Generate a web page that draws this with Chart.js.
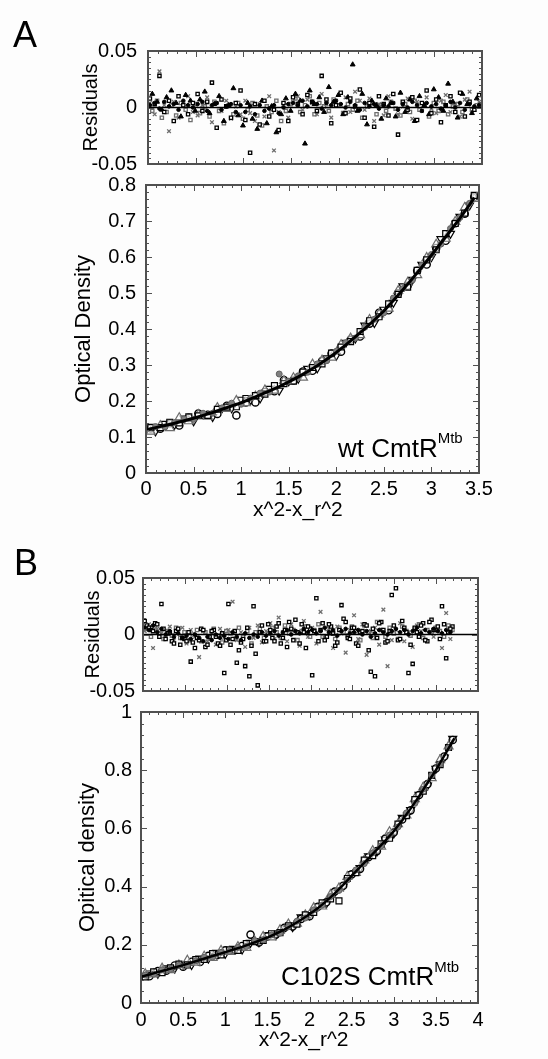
<!DOCTYPE html>
<html>
<head>
<meta charset="utf-8">
<script src="https://cdn.jsdelivr.net/npm/chart.js@4.4.1/dist/chart.umd.min.js"></script>
<style>
  html, body { margin: 0; padding: 0; background: #fdfdfd; }
  #fig { position: relative; width: 548px; height: 1059px; overflow: hidden;
         font-family: "Liberation Sans", Arial, sans-serif; color: #000; }
  #fig canvas { position: absolute; left: 0; top: 0; }
  .lbl { position: absolute; line-height: 1; white-space: nowrap; }
  .sup { font-size: 15px; position: relative; }
</style>
</head>
<body>
<div id="fig">
  <canvas id="resA" width="548" height="1059"></canvas>
  <canvas id="odA" width="548" height="1059"></canvas>
  <canvas id="resB" width="548" height="1059"></canvas>
  <canvas id="odB" width="548" height="1059"></canvas>
  <div class="lbl" style="left:13px;top:17px;font-size:36px">A</div>
  <div class="lbl" style="left:14px;top:545px;font-size:36px">B</div>
  <div class="lbl" style="left:338px;top:435px;font-size:26px">wt CmtR<span class="sup" style="top:-14px">Mtb</span></div>
  <div class="lbl" style="left:281px;top:963px;font-size:26px">C102S CmtR<span class="sup" style="top:-13px">Mtb</span></div>
</div>
<script>
// ---- panel A: optical density vs x^2-x_r^2 ----
const fitAx = [0,0.1,0.2,0.3,0.4,0.5,0.6,0.7,0.8,0.9,1.0,1.1,1.2,1.3,1.4,1.5,1.6,1.7,1.8,1.9,2.0,2.1,2.2,2.3,2.4,2.5,2.6,2.7,2.8,2.9,3.0,3.1,3.2,3.3,3.4,3.45];
const fitAy = [0.120,0.126,0.132,0.138,0.145,0.152,0.160,0.168,0.177,0.186,0.195,0.206,0.217,0.228,0.240,0.253,0.267,0.282,0.298,0.316,0.335,0.356,0.378,0.401,0.425,0.450,0.479,0.509,0.540,0.572,0.605,0.639,0.673,0.708,0.745,0.765];

const odAx1 = [0.05,0.15,0.25,0.35,0.45,0.55,0.65,0.75,0.85,0.95,1.05,1.15,1.25,1.35,1.45,1.55,1.65,1.75,1.85,1.95,2.05,2.15,2.25,2.35,2.45,2.55,2.65,2.75,2.85,2.95,3.05,3.15,3.25,3.35,3.45];
const odAx2 = [0.1,0.2,0.3,0.4,0.5,0.6,0.7,0.8,0.9,1.0,1.1,1.2,1.3,1.4,1.5,1.6,1.7,1.8,1.9,2.0,2.1,2.2,2.3,2.4,2.5,2.6,2.7,2.8,2.9,3.0,3.1,3.2,3.3,3.4];
const sqA  = [0.127,0.126,0.141,0.139,0.156,0.159,0.160,0.177,0.183,0.184,0.207,0.215,0.219,0.243,0.248,0.255,0.280,0.293,0.303,0.333,0.350,0.365,0.393,0.423,0.434,0.470,0.496,0.516,0.563,0.592,0.620,0.665,0.693,0.722,0.771];
const triA = [0.115,0.131,0.125,0.153,0.144,0.162,0.157,0.181,0.178,0.201,0.194,0.213,0.230,0.229,0.256,0.264,0.265,0.302,0.313,0.321,0.356,0.374,0.383,0.426,0.441,0.457,0.506,0.529,0.550,0.598,0.635,0.651,0.698,0.737,0.762];
const cirA = [0.124,0.123,0.138,0.132,0.153,0.165,0.162,0.164,0.187,0.160,0.196,0.196,0.225,0.227,0.258,0.257,0.282,0.284,0.311,0.332,0.337,0.370,0.379,0.415,0.445,0.452,0.499,0.520,0.562,0.579,0.625,0.645,0.694,0.720,0.767];
const invA = [0.116,0.137,0.134,0.152,0.144,0.163,0.156,0.181,0.180,0.204,0.203,0.208,0.234,0.229,0.255,0.262,0.290,0.291,0.319,0.326,0.362,0.374,0.410,0.417,0.454,0.473,0.519,0.537,0.579,0.600,0.650,0.665,0.712,0.743];
const dotA = [0.129,0.128,0.140,0.150,0.149,0.166,0.166,0.181,0.194,0.191,0.208,0.222,0.225,0.275,0.255,0.270,0.280,0.303,0.312,0.338,0.362,0.375,0.405,0.427,0.445,0.486,0.512,0.536,0.577,0.607,0.636,0.679,0.710,0.749];

// ---- panel A: residuals ----
const resAx1 = [0.02,0.07,0.12,0.17,0.22,0.27,0.32,0.37,0.42,0.47,0.52,0.57,0.62,0.67,0.72,0.77,0.82,0.87,0.92,0.97,1.02,1.07,1.12,1.17,1.22,1.27,1.32,1.37,1.42,1.47,1.52,1.57,1.62,1.67,1.72,1.77,1.82,1.87,1.92,1.97,2.02,2.07,2.12,2.17,2.22,2.27,2.32,2.37,2.42,2.47,2.52,2.57,2.62,2.67,2.72,2.77,2.82,2.87,2.92,2.97,3.02,3.07,3.12,3.17,3.22,3.27,3.32,3.37,3.42,3.47];
const resAx2 = [0.045,0.095,0.145,0.195,0.245,0.295,0.345,0.395,0.445,0.495,0.545,0.595,0.645,0.695,0.745,0.795,0.845,0.895,0.945,0.995,1.045,1.095,1.145,1.195,1.245,1.295,1.345,1.395,1.445,1.495,1.545,1.595,1.645,1.695,1.745,1.795,1.845,1.895,1.945,1.995,2.045,2.095,2.145,2.195,2.245,2.295,2.345,2.395,2.445,2.495,2.545,2.595,2.645,2.695,2.745,2.795,2.845,2.895,2.945,2.995,3.045,3.095,3.145,3.195,3.245,3.295,3.345,3.395,3.445];
const rA_sq = [0.008,0.003,0.028,-0.004,0.006,-0.012,0.010,0.002,-0.006,0.004,
  0.012,-0.003,0.005,0.022,-0.018,0.007,0.001,-0.009,0.004,0.015,
  -0.011,-0.040,0.003,-0.015,0.006,-0.008,-0.002,-0.020,0.004,-0.012,
  0.009,0.003,-0.006,0.011,0.005,-0.003,0.028,0.007,-0.014,0.002,
  0.013,-0.005,0.008,0.001,0.016,-0.009,0.004,-0.017,0.010,0.003,
  -0.007,0.012,-0.024,0.005,-0.002,0.009,-0.011,0.004,0.015,-0.005,
  0.007,-0.013,0.002,0.010,-0.004,0.013,-0.008,0.005,-0.002,0.011];
const rA_tri = [0.012,0.005,-0.002,0.009,0.015,0.004,-0.008,0.011,0.006,-0.003,
  0.007,0.014,-0.005,0.003,0.010,-0.012,0.002,0.017,-0.007,-0.016,
  0.004,-0.010,-0.019,0.006,-0.014,0.001,-0.022,-0.006,0.008,-0.003,
  0.012,0.006,-0.032,0.015,0.003,0.009,-0.004,0.018,0.005,0.011,
  -0.006,0.009,0.038,-0.003,0.012,-0.015,0.006,0.002,-0.010,0.008,
  0.004,-0.008,0.013,-0.004,0.007,-0.012,0.010,0.002,-0.006,0.016,
  0.009,-0.003,0.021,0.005,-0.009,0.012,0.003,-0.005,0.008];
const rA_x = [0.004,-0.006,0.032,0.002,-0.021,0.005,-0.009,0.003,0.010,-0.004,
  -0.007,0.002,0.009,-0.013,0.004,-0.003,0.006,-0.010,0.001,-0.006,
  0.006,-0.005,-0.012,0.003,-0.008,0.010,-0.038,-0.004,0.002,-0.009,
  0.005,0.010,-0.002,0.007,0.004,-0.006,0.012,0.003,-0.009,0.006,
  0.002,0.009,-0.004,0.014,0.006,-0.002,0.008,-0.012,0.003,-0.007,
  0.010,0.004,-0.006,0.001,0.008,-0.010,0.005,-0.003,0.009,-0.001,
  -0.005,0.006,0.011,-0.004,0.003,-0.008,0.007,0.014,-0.002,0.005];
const rA_gsq = [-0.003,0.006,-0.009,-0.004,0.002,-0.007,0.004,-0.002,-0.011,0.003,
  -0.005,0.001,-0.008,0.005,-0.003,-0.014,0.002,-0.006,0.004,-0.010,
  -0.002,0.004,-0.007,-0.016,0.001,-0.004,0.006,-0.012,-0.003,0.003,
  0.008,-0.004,0.002,0.010,-0.006,0.004,0.001,-0.003,0.007,0.002,
  -0.005,0.003,-0.002,0.006,-0.009,0.001,0.004,-0.006,0.002,-0.003,
  0.005,-0.001,-0.007,0.003,-0.004,0.006,-0.002,0.002,-0.008,0.004,
  -0.003,0.005,-0.006,0.001,0.003,-0.004,0.007,-0.002,0.002];
const rA_dot = [0.002,0.004,-0.001,0.005,0.001,0.003,-0.002,0.006,0.002,0.000,
  0.003,0.005,-0.003,0.002,0.004,-0.002,0.001,0.003,-0.004,0.002,
  -0.004,0.001,-0.006,0.002,-0.003,-0.001,0.002,-0.005,0.000,0.003,
  0.004,0.002,0.006,0.001,0.005,0.003,-0.001,0.004,0.002,0.006,
  0.003,0.000,0.005,0.002,-0.002,0.004,0.001,0.003,-0.001,0.002,
  0.001,0.004,-0.002,0.003,0.000,0.005,0.002,-0.003,0.004,0.001,
  0.003,-0.001,0.002,0.005,0.000,0.004,-0.002,0.003,0.001,0.002];
const zeroAx = [0, 3.5];
const zeroY = [0, 0];

// ---- panel B: optical density ----
const fitBx = [0,0.1,0.2,0.3,0.4,0.5,0.6,0.7,0.8,0.9,1.0,1.1,1.2,1.3,1.4,1.5,1.6,1.7,1.8,1.9,2.0,2.1,2.2,2.3,2.4,2.5,2.6,2.7,2.8,2.9,3.0,3.1,3.2,3.3,3.4,3.5,3.6,3.7,3.72];
const fitBy = [0.090,0.098,0.106,0.114,0.122,0.130,0.139,0.148,0.157,0.166,0.175,0.184,0.193,0.203,0.214,0.225,0.238,0.252,0.268,0.286,0.305,0.326,0.350,0.377,0.406,0.437,0.467,0.497,0.527,0.558,0.590,0.628,0.668,0.710,0.756,0.800,0.850,0.900,0.910];

const odBx1 = [0.05,0.15,0.25,0.35,0.45,0.55,0.65,0.75,0.85,0.95,1.05,1.15,1.25,1.35,1.45,1.55,1.65,1.75,1.85,1.95,2.05,2.15,2.25,2.35,2.45,2.55,2.65,2.75,2.85,2.95,3.05,3.15,3.25,3.35,3.45,3.55,3.65];
const odBx2 = [0.1,0.2,0.3,0.4,0.5,0.6,0.7,0.8,0.9,1.0,1.1,1.2,1.3,1.4,1.5,1.6,1.7,1.8,1.9,2.0,2.1,2.2,2.3,2.4,2.5,2.6,2.7,2.8,2.9,3.0,3.1,3.2,3.3,3.4,3.5,3.6,3.7];
const sqB  = [0.090,0.107,0.104,0.121,0.134,0.131,0.149,0.150,0.170,0.165,0.183,0.181,0.204,0.211,0.215,0.238,0.242,0.265,0.271,0.303,0.311,0.344,0.358,0.351,0.428,0.448,0.491,0.506,0.547,0.566,0.615,0.644,0.699,0.728,0.782,0.819,0.878];
const triB = [0.100,0.099,0.119,0.113,0.130,0.146,0.139,0.160,0.155,0.180,0.176,0.193,0.190,0.212,0.228,0.226,0.251,0.271,0.273,0.302,0.327,0.332,0.372,0.395,0.434,0.447,0.490,0.523,0.538,0.588,0.615,0.645,0.701,0.741,0.773,0.835,0.882];
const cirB = [0.092,0.110,0.111,0.129,0.125,0.142,0.141,0.162,0.164,0.181,0.180,0.196,0.235,0.208,0.229,0.235,0.258,0.263,0.289,0.298,0.331,0.346,0.383,0.403,0.442,0.461,0.501,0.522,0.565,0.586,0.631,0.662,0.715,0.752,0.806,0.847,0.904];
const invB = [0.102,0.101,0.120,0.119,0.132,0.131,0.153,0.153,0.173,0.169,0.187,0.184,0.207,0.209,0.233,0.234,0.257,0.261,0.295,0.302,0.332,0.342,0.381,0.401,0.444,0.464,0.505,0.521,0.562,0.583,0.637,0.664,0.716,0.748,0.805,0.844,0.908];
const dotB = [0.096,0.099,0.114,0.116,0.129,0.130,0.145,0.157,0.158,0.174,0.177,0.191,0.194,0.214,0.217,0.234,0.240,0.262,0.281,0.292,0.320,0.336,0.366,0.387,0.423,0.457,0.479,0.516,0.540,0.577,0.605,0.653,0.686,0.735,0.782,0.822,0.877];

// ---- panel B: residuals ----
const resBx1 = [0.02,0.07,0.12,0.17,0.22,0.27,0.32,0.37,0.42,0.47,0.52,0.57,0.62,0.67,0.72,0.77,0.82,0.87,0.92,0.97,1.02,1.07,1.12,1.17,1.22,1.27,1.32,1.37,1.42,1.47,1.52,1.57,1.62,1.67,1.72,1.77,1.82,1.87,1.92,1.97,2.02,2.07,2.12,2.17,2.22,2.27,2.32,2.37,2.42,2.47,2.52,2.57,2.62,2.67,2.72,2.77,2.82,2.87,2.92,2.97,3.02,3.07,3.12,3.17,3.22,3.27,3.32,3.37,3.42,3.47,3.52,3.57,3.62,3.67];
const resBx2 = [0.045,0.095,0.145,0.195,0.245,0.295,0.345,0.395,0.445,0.495,0.545,0.595,0.645,0.695,0.745,0.795,0.845,0.895,0.945,0.995,1.045,1.095,1.145,1.195,1.245,1.295,1.345,1.395,1.445,1.495,1.545,1.595,1.645,1.695,1.745,1.795,1.845,1.895,1.945,1.995,2.045,2.095,2.145,2.195,2.245,2.295,2.345,2.395,2.445,2.495,2.545,2.595,2.645,2.695,2.745,2.795,2.845,2.895,2.945,2.995,3.045,3.095,3.145,3.195,3.245,3.295,3.345,3.395,3.445,3.495,3.545,3.595,3.645,3.695];
const rB_sq = [0.012,0.006,0.003,0.009,0.027,-0.004,0.002,-0.008,0.005,-0.003,
  -0.006,-0.024,-0.012,-0.005,0.004,-0.009,0.003,-0.002,-0.010,-0.034,
  0.027,-0.004,-0.025,-0.007,-0.028,-0.037,0.025,-0.045,0.008,-0.006,
  0.004,-0.006,0.010,-0.003,-0.011,0.005,0.013,-0.008,0.002,0.007,
  -0.036,0.032,0.004,-0.005,0.009,0.001,-0.007,0.026,0.011,-0.004,
  0.006,-0.010,0.003,0.008,-0.033,-0.037,0.010,0.004,-0.006,0.035,
  0.041,-0.004,0.006,-0.034,-0.026,0.002,0.008,-0.005,0.011,0.004,
  0.007,0.025,-0.021,0.005];
const rB_sq2 = [0.008,0.004,0.010,-0.002,0.005,0.001,-0.006,0.003,-0.009,-0.004,
  0.002,-0.007,-0.003,0.005,-0.011,-0.002,0.004,-0.008,0.001,-0.005,
  -0.009,0.003,-0.014,-0.004,0.006,-0.010,-0.017,0.002,-0.006,0.009,
  -0.003,0.007,-0.008,0.004,0.011,-0.005,0.002,0.009,-0.012,0.005,
  0.003,-0.006,0.010,-0.002,0.007,-0.010,0.004,0.014,-0.003,0.006,
  -0.008,0.002,0.009,-0.014,0.005,-0.003,0.011,-0.007,0.003,0.008,
  -0.005,0.012,0.002,-0.009,0.006,-0.002,0.010,-0.006,0.013,0.004,
  -0.004,0.009,0.002,0.007];
const rB_x = [0.003,0.009,-0.012,0.005,0.001,-0.003,0.007,-0.005,0.002,0.006,
  -0.008,0.004,-0.002,-0.020,0.003,-0.006,0.001,-0.009,0.005,-0.003,
  0.004,0.029,-0.005,0.002,-0.011,0.006,-0.003,0.008,-0.007,0.003,
  0.010,-0.004,0.015,0.002,-0.006,0.009,0.003,-0.010,0.012,-0.002,
  0.006,-0.008,0.020,-0.003,0.005,-0.012,0.007,0.001,-0.016,0.004,
  0.017,-0.004,0.009,-0.018,0.003,0.006,-0.009,0.022,-0.028,-0.005,
  0.004,0.010,-0.006,0.002,-0.011,0.008,0.003,-0.005,0.011,-0.002,
  0.006,-0.012,0.019,-0.004];
const rB_gsq = [0.005,-0.002,0.007,0.001,-0.004,0.003,-0.001,0.006,-0.003,0.002,
  -0.005,0.000,0.004,-0.006,0.002,-0.003,0.005,-0.001,-0.007,0.003,
  0.001,-0.004,0.006,-0.002,0.003,-0.008,0.002,0.005,-0.003,0.001,
  0.006,0.002,-0.003,0.008,0.001,0.004,-0.005,0.003,0.007,-0.002,
  0.004,0.009,-0.002,0.005,0.001,-0.004,0.006,0.002,-0.001,0.007,
  0.003,-0.005,0.008,0.002,-0.003,0.011,0.004,-0.002,0.006,0.001,
  -0.004,0.007,0.003,-0.001,0.005,0.009,-0.003,0.004,0.002,0.006,
  0.003,-0.002,0.008,0.004];
const rB_dot = [0.006,0.004,0.008,0.002,0.005,0.000,0.003,-0.002,0.001,-0.003,
  -0.001,-0.004,0.000,-0.003,-0.006,-0.002,-0.005,0.000,-0.003,-0.001,
  -0.004,0.002,-0.002,-0.005,0.001,-0.003,0.000,-0.002,0.002,-0.001,
  0.001,0.003,-0.001,0.002,0.004,0.000,0.003,0.001,0.005,0.002,
  0.004,0.001,0.003,0.006,0.002,0.004,-0.001,0.003,0.005,0.001,
  0.002,0.004,0.000,0.003,-0.002,0.001,0.004,0.002,0.000,0.003,
  0.005,0.002,0.004,0.000,0.003,0.006,0.001,0.004,0.002,0.005,
  0.003,0.001,0.004,0.002];
const zeroBx = [0, 4];

Chart.defaults.font.family = "'Liberation Sans', Arial, sans-serif";
Chart.defaults.color = '#000';

// box frame with inward major/minor ticks on all four sides
const frameTicks = {
  id: 'frameTicks',
  afterDatasetsDraw(chart, args, opts) {
    const { ctx, chartArea: a, scales: { x, y } } = chart;
    ctx.save();
    ctx.strokeStyle = '#505050';
    ctx.lineWidth = 1;
    const run = (scale, step, len) => {
      const n = Math.round((scale.max - scale.min) / step);
      for (let i = 0; i <= n; i++) {
        const p = Math.round(scale.getPixelForValue(scale.min + i * step)) + 0.5;
        ctx.beginPath();
        if (scale.isHorizontal()) {
          ctx.moveTo(p, a.bottom); ctx.lineTo(p, a.bottom - len);
          ctx.moveTo(p, a.top); ctx.lineTo(p, a.top + len);
        } else {
          ctx.moveTo(a.left, p); ctx.lineTo(a.left + len, p);
          ctx.moveTo(a.right, p); ctx.lineTo(a.right - len, p);
        }
        ctx.stroke();
      }
    };
    run(x, opts.xMinor, 3); run(x, opts.xMajor, 6);
    run(y, opts.yMinor, 3); run(y, opts.yMajor, 6);
    ctx.lineWidth = 2;
    ctx.strokeRect(a.left, a.top, a.right - a.left, a.bottom - a.top);
    ctx.restore();
  }
};

const fmt = v => String(Number(v.toFixed(3)));

function marks(xs, ys, style) {
  const data = xs.map((x, i) => ({ x, y: ys[i] })).filter(p => p.y !== undefined);
  return Object.assign({ data, showLine: false }, style);
}
function curve(xs, ys, width) {
  return { data: xs.map((x, i) => ({ x, y: ys[i] })), showLine: true, borderColor: '#000',
           borderWidth: width, pointRadius: 0, fill: false };
}
const mk = (pointStyle, color, radius, fill, rot = 0, bw = 1) => ({
  pointStyle, pointRadius: radius, pointRotation: rot,
  pointBorderColor: color, pointBackgroundColor: fill, pointBorderWidth: bw,
});

// the x title sits a little left of the axis centre in the original; trailing spaces nudge it
const xTitle = (gap) => 'x^2-x_r^2' + '\u00a0'.repeat(gap);

function plot(id, box, ax, datasets) {
  return new Chart(id, {
    type: 'scatter',
    data: { datasets },
    plugins: [frameTicks],
    options: {
      responsive: false,
      animation: false,
      events: [],
      layout: { padding: { left: 0, top: box.top, right: 548 - box.right, bottom: 1059 - box.bottom - box.xh } },
      plugins: { legend: { display: false }, tooltip: { enabled: false }, frameTicks: ax.frame },
      scales: {
        x: {
          type: 'linear', min: ax.xmin, max: ax.xmax,
          afterFit: s => { s.height = box.xh; },
          grid: { display: false, drawTicks: false }, border: { display: false },
          ticks: { display: ax.xLabels, stepSize: ax.xstep, padding: ax.xTickPad, font: { size: 20 }, callback: fmt },
          title: { display: ax.xLabels, text: xTitle(ax.xGap || 0), font: { size: 21 }, padding: { top: 0, bottom: 0 } },
        },
        y: {
          type: 'linear', min: ax.ymin, max: ax.ymax,
          afterFit: s => { s.width = box.left; },
          grid: { display: false, drawTicks: false }, border: { display: false },
          ticks: { stepSize: ax.ystep, autoSkip: false, padding: ax.yTickPad, font: { size: 20 }, callback: fmt },
          title: { display: true, text: ax.yTitle, font: { size: ax.yTitleSize }, padding: { top: ax.yTitlePad, bottom: 0 } },
        },
      },
    },
  });
}

const black = '#000', gray = '#6e6e6e', paper = 'rgba(255,255,255,0.6)';

plot('resA', { left: 148, top: 51, right: 482, bottom: 164, xh: 0 },
  { xmin: 0, xmax: 3.5, xstep: 0.5, ymin: -0.05, ymax: 0.05, ystep: 0.05, xLabels: false,
    yTitle: 'Residuals', yTitleSize: 20, yTitlePad: 79, yTickPad: 11,
    frame: { xMajor: 0.5, xMinor: 0.1, yMajor: 0.05, yMinor: 0.005 } },
  [
    curve(zeroAx, zeroY, 1.5),
    marks(resAx1, rA_dot, mk('circle', black, 1.8, black)),
    marks(resAx1, rA_sq, mk('rect', black, 2.3, '#fff', 0, 1.3)),
    marks(resAx2, rA_tri, mk('triangle', black, 2.8, black)),
    marks(resAx1, rA_x, mk('crossRot', gray, 2.6, gray, 0, 1.3)),
    marks(resAx2, rA_gsq, mk('rect', gray, 2.3, '#fff', 0, 1.3)),
  ]);

plot('odA', { left: 146, top: 185, right: 479, bottom: 473, xh: 50 },
  { xmin: 0, xmax: 3.5, xstep: 0.5, ymin: 0, ymax: 0.8, ystep: 0.1, xLabels: true, xTickPad: 4, xGap: 5,
    yTitle: 'Optical Density', yTitleSize: 22, yTitlePad: 71, yTickPad: 10,
    frame: { xMajor: 0.5, xMinor: 0.1, yMajor: 0.1, yMinor: 0.02 } },
  [
    curve(fitAx, fitAy, 3),
    marks(odAx2, dotA, mk('circle', '#606060', 3, '#808080')),
    marks(odAx1, sqA, mk('rect', black, 4.2, paper, 0, 1.2)),
    marks(odAx1, triA, mk('triangle', gray, 5.2, paper, 0, 1.2)),
    marks(odAx1, cirA, mk('circle', black, 3.6, paper, 0, 1.4)),
    marks(odAx2, invA, mk('triangle', black, 4.6, paper, 180, 1.2)),
  ]);

plot('resB', { left: 143, top: 578, right: 478, bottom: 691, xh: 0 },
  { xmin: 0, xmax: 4, xstep: 0.5, ymin: -0.05, ymax: 0.05, ystep: 0.05, xLabels: false,
    yTitle: 'Residuals', yTitleSize: 20, yTitlePad: 81, yTickPad: 8,
    frame: { xMajor: 0.5, xMinor: 0.1, yMajor: 0.05, yMinor: 0.005 } },
  [
    curve(zeroBx, zeroY, 1.5),
    marks(resBx1, rB_dot, mk('circle', black, 1.8, black)),
    marks(resBx1, rB_sq, mk('rect', black, 2.3, '#fff', 0, 1.3)),
    marks(resBx2, rB_sq2, mk('rect', black, 2.3, '#fff', 0, 1.3)),
    marks(resBx1, rB_x, mk('crossRot', gray, 2.6, gray, 0, 1.3)),
    marks(resBx2, rB_gsq, mk('rect', gray, 2.3, '#fff', 0, 1.3)),
  ]);

plot('odB', { left: 141, top: 712, right: 478, bottom: 1003, xh: 50 },
  { xmin: 0, xmax: 4, xstep: 0.5, ymin: 0, ymax: 1, ystep: 0.2, xLabels: true, xTickPad: 5, xGap: 2,
    yTitle: 'Opitical density', yTitleSize: 22, yTitlePad: 75, yTickPad: 9,
    frame: { xMajor: 0.5, xMinor: 0.1, yMajor: 0.2, yMinor: 0.04 } },
  [
    curve(fitBx, fitBy, 2.5),
    marks(odBx1, dotB, mk('circle', '#606060', 3, '#808080')),
    marks(odBx1, sqB, mk('rect', black, 4.2, paper, 0, 1.2)),
    marks(odBx1, triB, mk('triangle', gray, 5.2, paper, 0, 1.2)),
    marks(odBx2, cirB, mk('circle', black, 3.6, paper, 0, 1.4)),
    marks(odBx2, invB, mk('triangle', black, 4.6, paper, 180, 1.2)),
  ]);
</script>
</body>
</html>
